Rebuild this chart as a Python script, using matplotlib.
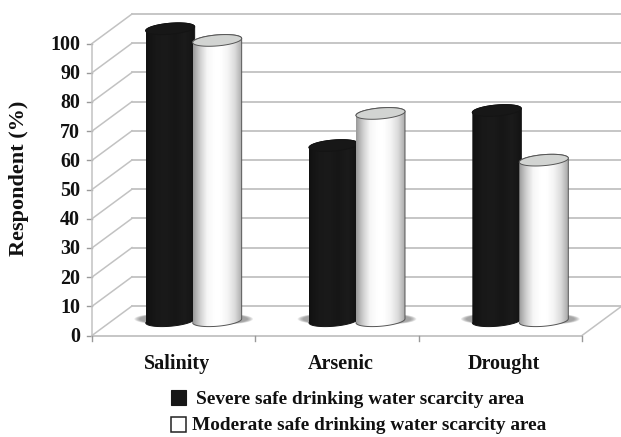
import numpy as np
import matplotlib
matplotlib.use('Agg')
import matplotlib.pyplot as plt
from matplotlib.path import Path
from matplotlib.patches import PathPatch, Rectangle

plt.rcParams['font.family'] = ['Liberation Serif', 'DejaVu Serif']

categories = ['Salinity', 'Arsenic', 'Drought']
severe = [100, 60, 72]
moderate = [96, 71, 55]
y_ticks = [0, 10, 20, 30, 40, 50, 60, 70, 80, 90, 100]
series_names = ['Severe safe drinking water scarcity area',
                'Moderate safe drinking water scarcity area']

W, H = 621, 437
X0, CAT_W = 92, 163.33      # pixel of category 0 and pixels per category
Y0, UNIT = 335.5, 2.92      # pixel of value 0 and pixels per percent
DX, DY = 40, 29.5           # depth of the 3d box, pixels
GRID = '#c2c2c2'

fig = plt.figure(figsize=(W / 100, H / 100), dpi=100)
ax = fig.add_axes([0, 0, 1, 1])
ax.set_xlim(-X0 / CAT_W, (W - X0) / CAT_W)
ax.set_ylim((Y0 - H) / UNIT, Y0 / UNIT)
ax.axis('off')

# pixel lengths in data units
dx = DX / CAT_W
dy = DY / UNIT
n = len(categories)

# walls and floor
for v in y_ticks:
    ax.plot([0, dx], [v, v + dy], color=GRID, lw=1.1, zorder=1)
    ax.plot([dx, n + dx], [v + dy, v + dy], color=GRID, lw=1.3, zorder=1)
    ax.plot([-5 / CAT_W, 0], [v, v], color='#999999', lw=1, zorder=1)
    ax.text(-12 / CAT_W, v - 1.6 / UNIT, str(v), ha='right', va='center',
            fontsize=14.4, fontweight='bold', color='#111111')
ax.plot([0, 0], [0, 100], color=GRID, lw=1.1, zorder=1)
ax.plot([0, n], [0, 0], color=GRID, lw=1.3, zorder=1)
ax.plot([n, n + dx], [0, dy], color=GRID, lw=1.1, zorder=1)
for i in range(n + 1):
    ax.plot([i, i], [0, -5 / UNIT], color='#999999', lw=1, zorder=1)

BAR_HALF = 24.5 / CAT_W
OFFSET = 23.5 / CAT_W
RY = 5.5 / UNIT
TILT = 2.0 / UNIT
t = np.linspace(0, 2 * np.pi, 121)


def ellipse_xy(cx, cy):
    return (cx + BAR_HALF * np.cos(t),
            cy + RY * np.sin(t) + TILT * np.cos(t))


def cylinder(cx, value, colors, top_color, edge, z):
    base = dy / 2
    xs, ys = ellipse_xy(cx, base)
    xt, yt = ellipse_xy(cx, base + value)
    # lower half of the base, upper half of the top
    low = t >= np.pi
    up = t <= np.pi
    px = np.r_[xs[low], xt[up]]
    py = np.r_[ys[low], yt[up]]
    body = PathPatch(Path(np.c_[px, py]), fc='none', ec='none', zorder=z)
    ax.add_patch(body)
    cmap = matplotlib.colors.LinearSegmentedColormap.from_list('c', colors)
    grad = np.linspace(0, 1, 128).reshape(1, -1)
    im = ax.imshow(grad, cmap=cmap, aspect='auto', zorder=z, vmin=0, vmax=1,
                   extent=[cx - BAR_HALF, cx + BAR_HALF, base - 3 * RY,
                           base + value + 3 * RY], interpolation='bilinear')
    im.set_clip_path(body)
    ax.plot(px, py, color=edge, lw=0.7, zorder=z + 0.1)
    ax.fill(xt, yt, fc=top_color, ec=edge, lw=0.7, zorder=z + 0.2)


def shadow(cx, shift):
    # soft ground shadow, stacked transparent ellipses
    base = dy / 2 + 0.6
    for k in np.linspace(1.22, 1.0, 8):
        ax.fill(cx + shift / CAT_W + BAR_HALF * k * np.cos(t),
                base + RY * 0.8 * k * np.sin(t), fc='#666666', ec='none',
                alpha=0.1, zorder=2)


BLACK = ['#111111', '#181818', '#1a1a1a', '#161616', '#1b1b1b', '#131313']
WHITE = ['#9a9a9a', '#cfcfcf', '#f6f6f6', '#ffffff', '#ffffff', '#f4f4f4',
         '#dcdcdc', '#ababab']

for i, cat in enumerate(categories):
    center = i + 0.5 + dx / 2
    shadow(center - OFFSET, -6)
    shadow(center + OFFSET, 6)
    cylinder(center - OFFSET, severe[i], BLACK, '#171717', '#141414', 3 + i)
    cylinder(center + OFFSET, moderate[i], WHITE, '#d2d4d2', '#555555', 3.5 + i)
    ax.text(i + 0.5 + 3.5 / CAT_W, -9.7, cat, ha='center', va='center',
            fontsize=14.5, fontweight='bold', color='#111111')

ax.set_xlim(-X0 / CAT_W, (W - X0) / CAT_W)
ax.set_ylim((Y0 - H) / UNIT, Y0 / UNIT)

# y label and legend are placed in figure pixels
fig.text(19.5 / W, 1 - 178.7 / H, 'Respondent (%)', rotation=90, ha='center',
         va='center', fontsize=16, fontweight='bold', color='#111111')

fig.add_artist(Rectangle((171 / W, 1 - 405 / H), 15 / W, 15 / H, fc='#161616',
                         ec='#161616', lw=0.8, transform=fig.transFigure))
fig.add_artist(Rectangle((171 / W, 1 - 432 / H), 15 / W, 15 / H, fc='white',
                         ec='#222222', lw=1.1, transform=fig.transFigure))
fig.text(196 / W, 1 - 399 / H, series_names[0], ha='left', va='center',
         fontsize=13.85, fontweight='bold', color='#111111')
fig.text(192.5 / W, 1 - 426 / H, series_names[1], ha='left', va='center',
         fontsize=13.85, fontweight='bold', color='#111111')

fig.savefig('out.png', dpi=100)
